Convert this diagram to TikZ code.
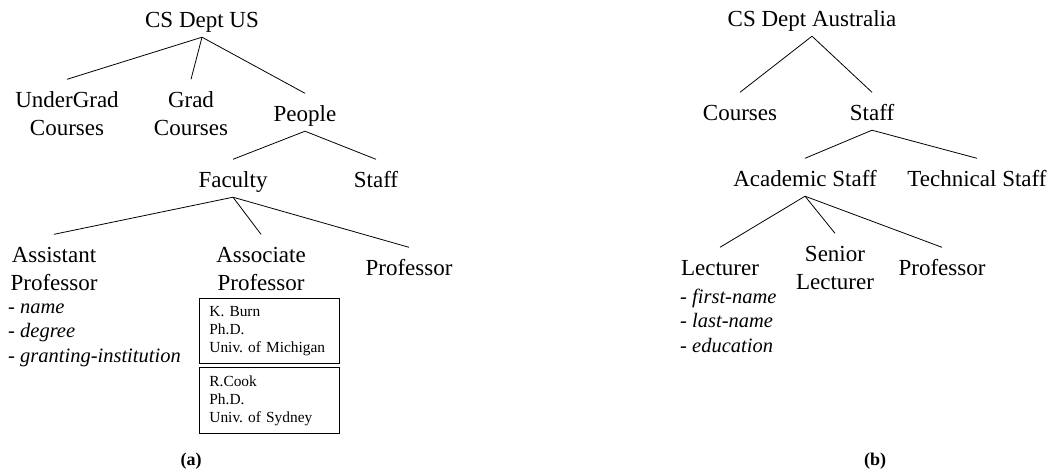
\documentclass[tikz,border=0pt]{standalone}
\usepackage{fontspec}
\setmainfont{Liberation Serif}
\frenchspacing
\begin{document}
\begin{tikzpicture}[x=1pt,y=-1pt,
  lbl/.style={font=\fontsize{23}{28}\selectfont, inner sep=0pt, anchor=base,
              text height=27.5pt, text depth=10pt},
  attr/.style={font=\fontsize{20.5}{24.5}\selectfont, inner sep=0pt, anchor=base west},
  rec/.style={draw, line width=0.8pt, anchor=north west, inner xsep=10pt, inner ysep=0pt,
              text width=120pt, minimum height=65pt, align=left,
              font=\fontsize{15.4}{18}\selectfont},
  subcap/.style={font=\bfseries\fontsize{18}{20}\selectfont, inner sep=0pt, anchor=base},
  edge/.style={line width=0.8pt}]
\useasboundingbox (0,0) rectangle (1056,472);

% ---------- (a) US department ----------
\node[lbl] (csus) at (202,27) {CS Dept US};
\node[lbl] (ug) at (67,107) {\begin{tabular}[t]{@{}c@{}}UnderGrad\\Courses\end{tabular}};
\node[lbl] (gr) at (191,107) {\begin{tabular}[t]{@{}c@{}}Grad\\Courses\end{tabular}};
\node[lbl] (people) at (305,121) {People};
\node[lbl] (faculty) at (233,187) {Faculty};
\node[lbl] (staffa) at (376,187) {Staff};
\node[lbl] (asst) at (54,262) {\begin{tabular}[t]{@{}c@{}}Assistant\\Professor\end{tabular}};
\node[lbl] (assoc) at (261,262) {\begin{tabular}[t]{@{}c@{}}Associate\\Professor\end{tabular}};
\node[lbl] (profa) at (409,275) {Professor};

\node[attr] (asstattr) at (8,313) {\begin{tabular}[t]{@{}l@{}}- \textit{name}\\- \textit{degree}\\- \textit{granting-institution}\end{tabular}};

\node[rec] (burn) at (199,298) {K. Burn\\Ph.D.\\Univ. of Michigan};
\node[rec, minimum height=66pt] (cook) at (199,367) {R.Cook\\Ph.D.\\Univ. of Sydney};

\draw[edge] (csus.south) -- (ug.north);
\draw[edge] (csus.south) -- (gr.north);
\draw[edge] (csus.south) -- (people.north);
\draw[edge] (people.south) -- (faculty.north);
\draw[edge] (people.south) -- (staffa.north);
\draw[edge] (faculty.south) -- (asst.north);
\draw[edge] (faculty.south) -- (assoc.north);
\draw[edge] (faculty.south) -- (profa.north);

\node[subcap] (capa) at (191,465) {(a)};

% ---------- (b) Australian department ----------
\node[lbl] (csau) at (812,26) {CS Dept Australia};
\node[lbl] (courses) at (740,120) {Courses};
\node[lbl] (staffb) at (872,120) {Staff};
\node[lbl] (acad) at (805,186) {Academic Staff};
\node[lbl] (tech) at (977,186) {Technical Staff};
\node[lbl] (lect) at (720,275) {Lecturer};
\node[lbl] (senior) at (835,261) {\begin{tabular}[t]{@{}c@{}}Senior\\Lecturer\end{tabular}};
\node[lbl] (profb) at (942,275) {Professor};

\node[attr] (lectattr) at (680,303) {\begin{tabular}[t]{@{}l@{}}- \textit{first-name}\\- \textit{last-name}\\- \textit{education}\end{tabular}};

\draw[edge] (csau.south) -- (courses.north);
\draw[edge] (csau.south) -- (staffb.north);
\draw[edge] (staffb.south) -- (acad.north);
\draw[edge] (staffb.south) -- (tech.north);
\draw[edge] (acad.south) -- (lect.north);
\draw[edge] (acad.south) -- (senior.north);
\draw[edge] (acad.south) -- (profb.north);

\node[subcap] (capb) at (875,465) {(b)};
\end{tikzpicture}
\end{document}
